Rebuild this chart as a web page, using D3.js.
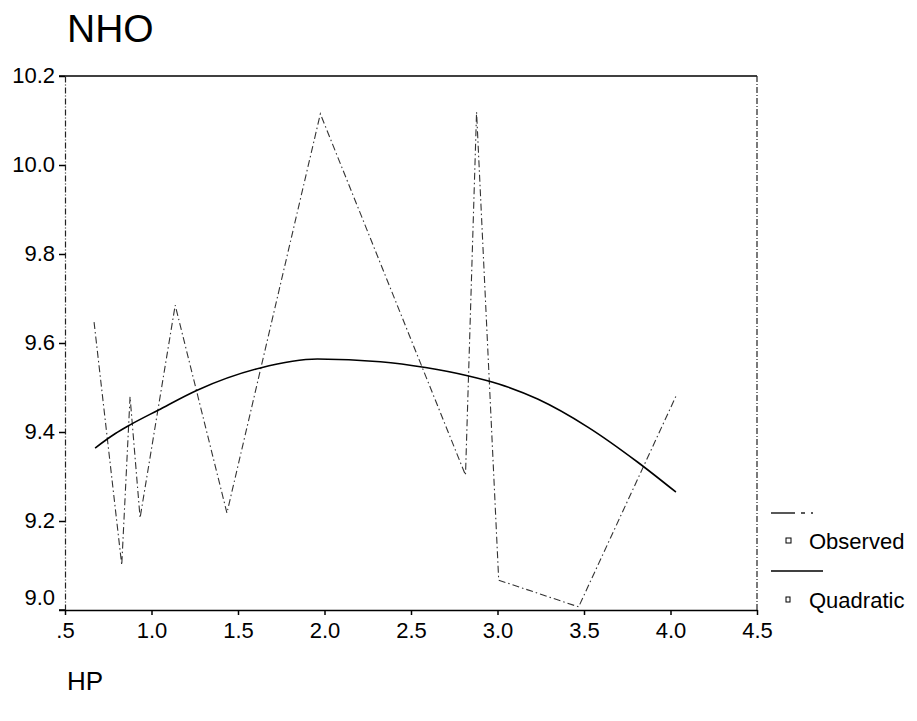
<!DOCTYPE html>
<html><head><meta charset="utf-8">
<script src="https://cdn.jsdelivr.net/npm/d3@7"></script>
<style>body{margin:0;background:#fff}svg{display:block}text{font-family:"Liberation Sans",Arial,sans-serif;fill:#000}</style>
</head><body>
<script>
// Observed series (HP, NHO) in drawing order
const obsX = [0.668, 0.828, 0.876, 0.934, 1.137, 1.436, 1.976, 2.815, 2.879, 3.007, 3.469, 4.031];
const obsY = [9.647, 9.101, 9.479, 9.207, 9.685, 9.218, 10.115, 9.303, 10.119, 9.067, 9.007, 9.48];
// Quadratic fit values
const quadX = [0.674, 0.789, 0.876, 1.038, 1.264, 1.629, 1.959, 2.323, 2.584, 2.833, 3.007, 3.232, 3.522, 3.811, 4.031];
const quadY = [9.364, 9.396, 9.416, 9.449, 9.494, 9.544, 9.564, 9.558, 9.545, 9.526, 9.508, 9.474, 9.411, 9.332, 9.265];
const xTicks = [0.5, 1.0, 1.5, 2.0, 2.5, 3.0, 3.5, 4.0, 4.5];
const xTickLabels = [".5", "1.0", "1.5", "2.0", "2.5", "3.0", "3.5", "4.0", "4.5"];
const yTicks = [9.0, 9.2, 9.4, 9.6, 9.8, 10.0, 10.2];
const legendLabels = ["Observed", "Quadratic"];
const titleText = "NHO";
const xTitle = "HP";

const W = 917, H = 721;
const L = 65, R = 757, T = 76, B = 610;
const svg = d3.select("body").append("svg").attr("width", W).attr("height", H);
const x = d3.scaleLinear().domain([0.5, 4.5]).range([L, R]);
const y = d3.scaleLinear().domain([9.0, 10.2]).range([B, T]);

// frame
svg.append("line").attr("x1", L - 6).attr("x2", R).attr("y1", T).attr("y2", T).attr("stroke", "#000").attr("stroke-width", 1.5);
svg.append("line").attr("x1", R).attr("x2", R).attr("y1", T).attr("y2", B).attr("stroke", "#222").attr("stroke-width", 1.2).attr("stroke-dasharray", "6,2,1,2");

// axes
const yAxis = d3.axisLeft(y).tickValues(yTicks).tickFormat(d3.format(".1f")).tickSize(6).tickSizeOuter(0);
const gy = svg.append("g").attr("transform", `translate(${L},0)`).call(yAxis);
gy.select(".domain").attr("stroke", "#222").attr("stroke-width", 1.2).attr("stroke-dasharray", "6,2,1,2");
gy.selectAll(".tick line").attr("stroke", "#000").attr("stroke-width", 1.5);
gy.selectAll(".tick text").attr("font-size", 22).attr("x", -10).attr("dy", d => d === 9.0 ? "-0.25em" : "0.28em")
  .style("font-family", "'Liberation Sans',Arial,sans-serif").attr("fill", "#000");

const xAxis = d3.axisBottom(x).tickValues(xTicks).tickFormat((d, i) => xTickLabels[i]).tickSize(5).tickSizeOuter(0);
const gx = svg.append("g").attr("transform", `translate(0,${B})`).call(xAxis);
gx.select(".domain").attr("stroke", "#000").attr("stroke-width", 1.5);
gx.selectAll(".tick line").attr("stroke", "#000").attr("stroke-width", 1.5);
gx.selectAll(".tick text").attr("font-size", 22).attr("y", 12)
  .style("font-family", "'Liberation Sans',Arial,sans-serif").attr("fill", "#000");
svg.append("line").attr("x1", L - 6).attr("x2", L).attr("y1", B).attr("y2", B).attr("stroke", "#000").attr("stroke-width", 1.5);

// series
const line = d3.line().x(d => x(d[0])).y(d => y(d[1]));
svg.append("path").datum(obsX.map((v, i) => [v, obsY[i]])).attr("d", line)
  .attr("fill", "none").attr("stroke", "#333").attr("stroke-width", 1.1).attr("stroke-dasharray", "7,3,1.5,3");
svg.append("path").datum(quadX.map((v, i) => [v, quadY[i]])).attr("d", line.curve(d3.curveMonotoneX))
  .attr("fill", "none").attr("stroke", "#000").attr("stroke-width", 1.6);

// titles
svg.append("text").attr("x", 67).attr("y", 42).attr("font-size", 39).text(titleText);
svg.append("text").attr("x", 67).attr("y", 690).attr("font-size", 26).text(xTitle);

// legend
const lg = svg.append("g");
lg.append("line").attr("x1", 771).attr("x2", 822).attr("y1", 513).attr("y2", 513).attr("stroke", "#222").attr("stroke-width", 1.3).attr("stroke-dasharray", "24,6,4,6,2,20");
lg.append("rect").attr("x", 786).attr("y", 538).attr("width", 5).attr("height", 5).attr("fill", "none").attr("stroke", "#000").attr("stroke-width", 1);
lg.append("text").attr("x", 809).attr("y", 549).attr("font-size", 22).text(legendLabels[0]);
lg.append("line").attr("x1", 771).attr("x2", 823).attr("y1", 571).attr("y2", 571).attr("stroke", "#000").attr("stroke-width", 1.5);
lg.append("rect").attr("x", 786).attr("y", 597).attr("width", 4).attr("height", 5).attr("fill", "none").attr("stroke", "#000").attr("stroke-width", 1);
lg.append("text").attr("x", 809).attr("y", 608).attr("font-size", 22).text(legendLabels[1]);
</script>
</body></html>
